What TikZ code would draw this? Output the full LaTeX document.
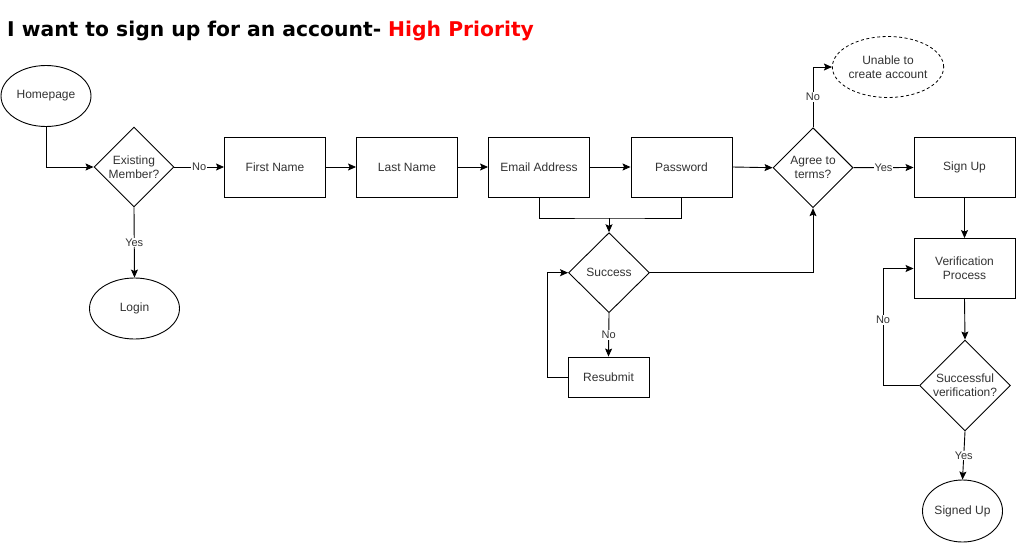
\documentclass[tikz,border=0pt]{standalone}
\usepackage{fontspec}
\setmainfont{Liberation Sans}
\newfontfamily\titlefont{DejaVu Sans}
\usetikzlibrary{shapes.geometric,arrows.meta}
\begin{document}
\begin{tikzpicture}[x=1pt,y=-1pt,
  txt/.style={font=\fontsize{12}{14}\selectfont, text=black!80, align=center},
  box/.style={draw, line width=0.9pt, minimum width=101pt, minimum height=60pt, inner sep=0pt, txt},
  oval/.style={draw, ellipse, line width=0.9pt, minimum width=90pt, minimum height=61pt, inner sep=0pt, txt},
  dia/.style={draw, diamond, line width=0.9pt, minimum width=80pt, minimum height=80pt, inner sep=0pt},
  lbl/.style={fill=white, inner sep=1pt, font=\fontsize{11}{13}\selectfont, text=black!80},
  arr/.style={-{Stealth[length=8pt,width=7pt,inset=1.5pt]}, line width=0.9pt},
  ln/.style={line width=0.9pt}
]
\fill[white] (0,0) rectangle (1016,543);
\useasboundingbox (0,0) rectangle (1016,543);

\node[anchor=base west, inner sep=0pt, font=\titlefont\bfseries\fontsize{20.3}{24}\selectfont] (title) at (7,37)
  {I want to sign up for an account- \textcolor{red}{High Priority}};

% nodes
\node[oval] (home) at (46,96) {Homepage};
\node[dia, label={[txt]center:Existing\\Member?}] (exist) at (134,167) {};
\node[oval] (login) at (134.5,308.5) {Login};
\node[box] (first) at (275,167) {First Name};
\node[box] (last) at (407,167) {Last Name};
\node[box] (email) at (539,167) {Email Address};
\node[box] (pwd) at (681.5,167) {Password};
\node[dia, minimum width=81pt] (succ) at (609,272.7) {};
\node[txt] (succt) at (succ.center) {Success};
\node[box, minimum width=81pt, minimum height=40pt] (resub) at (608.5,377) {Resubmit};
\node[dia, label={[txt]center:Agree to\\terms?}] (agree) at (813,167.7) {};
\node[oval, dashed, dash pattern=on 3pt off 2.5pt, line width=0.8pt] (unable) at (888,67) {Unable to\\create account};
\node[box] (signup) at (964.5,167.5) {Sign Up};
\node[box] (verif) at (964.5,268.5) {Verification\\Process};
\node[dia, minimum width=91pt, minimum height=91pt, label={[txt]center:Successful\\verification?}] (sv) at (965,385.5) {};
\node[oval, minimum width=80pt, minimum height=62pt] (signed) at (962.5,511) {Signed Up};

\coordinate (jn) at (609,218);

% connectors
\draw[arr] (home.south) |- (exist.west);
\draw[arr] (exist.east) -- node[lbl]{No} (first.west);
\draw[arr] (exist.south) -- node[lbl]{Yes} (login.north);
\draw[arr] (first.east) -- (last.west);
\draw[arr] (last.east) -- (email.west);
\draw[arr] (email.east) -- (pwd.west);
\draw[arr] (pwd.east) -- (agree.west);
\draw[ln] (email.south) |- (jn) -| (pwd.south);
\draw[arr] (jn) -- (succ.north);
\draw[arr] (succ.south) -- node[lbl]{No} (resub.north);
\draw[arr] (resub.west) -- ++(-20,0) |- (succ.west);
\draw[arr] (succ.east) -| (agree.south);
\draw[arr] (agree.north) |- node[lbl,pos=0.25]{No} (unable.west);
\draw[arr] (agree.east) -- node[lbl]{Yes} (signup.west);
\draw[arr] (signup.south) -- (verif.north);
\draw[arr] (verif.south) -- (sv.north);
\draw[arr] (sv.west) -- ++(-36,0) |- node[lbl,pos=0.28]{No} (verif.west);
\draw[arr] (sv.south) -- node[lbl]{Yes} (signed.north);
\end{tikzpicture}
\end{document}
